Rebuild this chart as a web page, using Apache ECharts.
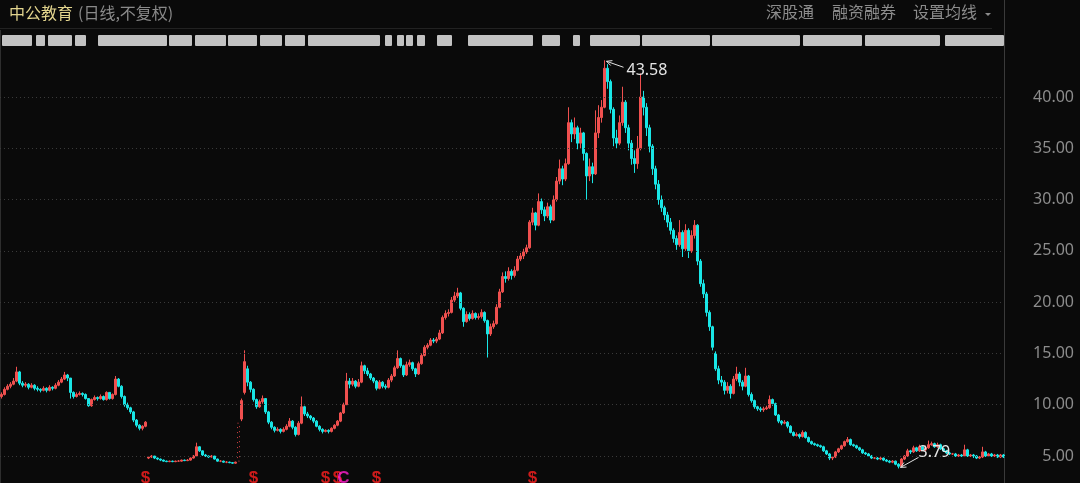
<!DOCTYPE html>
<html>
<head>
<meta charset="utf-8">
<script src="https://cdn.jsdelivr.net/npm/echarts@6/dist/echarts.min.js"></script>
<style>
html,body{margin:0;padding:0;background:#0a0a0a;}
#c{width:1080px;height:483px;}
</style>
</head>
<body>
<div id="c"></div>
<script>
// ---- data (daily K-line, 中公教育, unadjusted, resampled) ----
const opens = [
10.8,11.0,11.5,11.8,12.0,12.3,13.2,12.1,11.9,12.0,11.7,11.9,11.6,11.5,11.4,11.6,11.4,11.7,11.6,11.9,
12.2,12.5,12.9,12.6,11.2,10.8,11.0,11.1,11.0,10.6,9.9,10.5,10.7,10.6,10.8,10.5,11.2,10.6,11.0,12.5,
11.8,10.8,10.0,9.7,9.3,8.5,8.0,7.7,7.9,4.8,4.9,5.0,4.8,4.7,4.6,4.5,4.45,4.5,4.45,4.5,
4.5,4.6,4.55,4.6,4.8,5.0,5.9,5.5,5.1,5.0,4.9,5.0,4.7,4.5,4.5,4.4,4.4,4.35,4.3,4.5,
8.6,11.2,13.5,12.2,11.5,10.5,9.8,10.3,10.6,9.3,8.3,7.8,7.5,7.6,7.4,7.6,7.9,8.4,7.8,7.1,
8.2,9.8,9.1,8.9,8.7,8.4,7.9,7.6,7.4,7.5,7.4,7.7,8.0,8.4,9.2,10.0,12.3,12.0,12.3,11.8,
12.2,13.8,13.3,13.0,12.6,12.3,11.6,12.2,11.8,11.7,12.4,12.8,13.6,14.5,13.8,12.9,13.9,14.1,13.5,13.0,
14.0,14.8,15.6,15.8,16.3,16.2,16.4,17.0,18.5,18.9,19.0,20.2,20.6,20.9,19.4,18.1,18.8,18.4,18.9,18.5,
18.6,19.0,18.2,16.9,17.6,17.9,19.5,21.0,22.5,22.3,23.0,22.6,23.1,24.2,24.5,24.9,25.3,27.8,28.7,27.5,
29.8,29.0,28.4,29.3,28.0,30.0,31.8,33.0,32.0,33.5,37.5,36.4,37.0,35.5,36.5,34.5,32.3,33.2,32.5,36.5,
38.0,39.0,42.8,41.5,38.8,36.0,35.5,37.5,39.5,37.0,35.5,34.0,33.5,35.0,40.0,39.0,37.0,35.2,33.0,31.5,
30.0,29.2,28.5,27.8,27.0,26.2,25.6,26.8,25.2,27.0,25.0,26.5,27.5,24.0,21.8,20.8,19.0,17.6,15.0,13.5,
12.4,12.2,11.4,11.8,11.1,12.5,13.0,12.2,11.8,12.8,11.0,10.4,9.8,9.6,9.5,9.6,9.7,10.5,10.1,9.0,
8.4,8.2,8.3,7.9,7.3,7.0,7.1,6.9,7.3,6.8,6.4,6.2,6.1,6.0,5.9,5.5,5.2,4.8,4.9,5.4,
5.7,6.0,6.4,6.6,6.1,6.0,5.8,5.6,5.3,5.2,5.0,4.8,4.8,4.7,4.8,4.6,4.5,4.4,4.5,4.2,
4.0,4.7,5.0,5.5,5.4,5.8,5.5,5.9,5.6,5.8,6.1,6.2,5.9,6.1,5.7,5.5,5.3,5.2,5.2,5.0,
5.1,5.0,5.6,5.0,5.1,5.0,4.8,4.9,5.4,5.0,5.2,5.0,5.1,4.9,5.1
];
const closes = [
11.0,11.5,11.8,12.0,12.3,13.2,12.1,11.9,12.0,11.7,11.9,11.6,11.5,11.4,11.6,11.4,11.7,11.6,11.9,12.2,
12.5,12.9,12.6,11.2,10.8,11.0,11.1,11.0,10.6,9.9,10.5,10.7,10.6,10.8,10.5,11.2,10.6,11.0,12.5,11.8,
10.8,10.0,9.7,9.3,8.5,8.0,7.7,7.9,8.3,4.9,5.0,4.8,4.7,4.6,4.5,4.45,4.5,4.45,4.5,4.5,
4.6,4.55,4.6,4.8,5.0,5.9,5.5,5.1,5.0,4.9,5.0,4.7,4.5,4.5,4.4,4.4,4.35,4.3,4.4,8.2,
10.4,14.2,12.2,11.5,10.5,9.8,10.3,10.6,9.3,8.3,7.8,7.5,7.6,7.4,7.6,7.9,8.4,7.8,7.1,8.2,
9.8,9.1,8.9,8.7,8.4,7.9,7.6,7.4,7.5,7.4,7.7,8.0,8.4,9.2,10.0,12.3,12.0,12.3,11.8,12.2,
13.8,13.3,13.0,12.6,12.3,11.6,12.2,11.8,11.7,12.4,12.8,13.6,14.5,13.8,12.9,13.9,14.1,13.5,13.0,14.0,
14.8,15.6,15.8,16.3,16.2,16.4,17.0,18.5,18.9,19.0,20.2,20.6,20.9,19.4,18.1,18.8,18.4,18.9,18.5,18.6,
19.0,18.2,16.9,17.6,17.9,19.5,21.0,22.5,22.3,23.0,22.6,23.1,24.2,24.5,24.9,25.3,27.8,28.7,27.5,29.8,
29.0,28.4,29.3,28.0,30.0,31.8,33.0,32.0,33.5,37.5,36.4,37.0,35.5,36.5,34.5,32.3,33.2,32.5,36.5,38.0,
39.0,42.8,41.5,38.8,36.0,35.5,37.5,39.5,37.0,35.5,34.0,33.5,35.0,40.0,39.0,37.0,35.2,33.0,31.5,30.0,
29.2,28.5,27.8,27.0,26.2,25.6,26.8,25.2,27.0,25.0,26.5,27.5,24.0,21.8,20.8,19.0,17.6,15.6,13.5,12.4,
12.2,11.4,11.8,11.1,12.5,13.0,12.2,11.8,12.8,11.0,10.4,9.8,9.6,9.5,9.6,9.7,10.5,10.1,9.0,8.4,
8.2,8.3,7.9,7.3,7.0,7.1,6.9,7.3,6.8,6.4,6.2,6.1,6.0,5.9,5.5,5.2,4.8,4.9,5.4,5.7,
6.0,6.4,6.6,6.1,6.0,5.8,5.6,5.3,5.2,5.0,4.8,4.8,4.7,4.8,4.6,4.5,4.4,4.5,4.2,4.0,
4.7,5.0,5.5,5.4,5.8,5.5,5.9,5.6,5.8,6.1,6.2,5.9,6.1,5.7,5.5,5.3,5.2,5.2,5.0,5.1,
5.0,5.6,5.0,5.1,5.0,4.8,4.9,5.4,5.0,5.2,5.0,5.1,4.9,5.1,4.9
];
const lows = [
10.6,10.9,11.4,11.6,11.9,12.2,11.9,11.7,11.7,11.5,11.6,11.4,11.3,11.2,11.3,11.2,11.3,11.4,11.5,11.8,
12.1,12.4,12.3,10.6,10.6,10.7,10.9,10.8,10.5,9.8,9.8,10.4,10.4,10.5,10.4,10.4,10.5,10.5,10.9,11.7,
10.6,9.8,9.5,9.1,8.3,7.8,7.5,7.5,7.8,4.7,4.8,4.7,4.6,4.5,4.45,4.4,4.4,4.4,4.4,4.45,
4.45,4.5,4.5,4.55,4.75,5.0,5.4,5.0,4.9,4.8,4.85,4.65,4.45,4.4,4.35,4.3,4.3,4.25,4.25,4.5,
8.4,11.0,11.8,11.2,10.3,9.6,9.7,10.1,9.1,8.1,7.6,7.3,7.4,7.2,7.3,7.5,7.8,7.6,6.9,7.0,
8.1,8.9,8.7,8.5,8.2,7.8,7.4,7.2,7.3,7.2,7.3,7.6,7.9,8.3,9.1,10.0,11.6,11.8,11.6,11.7,
12.1,13.0,12.8,12.4,12.1,11.4,11.5,11.6,11.5,11.6,12.2,12.7,13.5,13.6,12.7,12.8,13.7,13.3,12.7,12.9,
13.9,14.7,15.4,15.7,16.0,16.0,16.3,16.9,18.3,18.6,18.9,20.0,20.4,19.2,17.6,18.0,18.2,18.3,18.3,18.3,
18.4,18.0,14.6,16.7,17.4,17.8,19.4,20.9,21.9,22.1,22.2,22.4,23.0,24.0,24.2,24.7,25.2,27.5,27.0,27.4,
28.6,27.9,28.2,27.7,27.9,29.8,31.5,31.4,31.8,33.4,35.6,35.9,34.9,35.0,33.8,30.0,31.8,31.6,32.4,36.0,
37.5,38.9,40.8,38.4,35.2,35.0,35.3,37.2,36.5,34.8,33.4,32.6,33.0,34.8,38.2,36.2,34.6,32.4,31.0,29.5,
28.8,28.0,27.3,26.6,25.8,25.1,25.4,24.4,25.0,24.3,24.8,26.2,23.6,21.5,20.4,18.6,17.2,15.3,13.3,12.0,
11.8,11.0,11.1,10.6,11.0,12.3,11.8,11.4,11.7,10.8,10.2,9.6,9.4,9.3,9.3,9.5,9.6,9.9,8.9,8.2,
8.0,8.1,7.7,7.2,6.9,6.9,6.7,6.8,6.7,6.3,6.1,6.0,5.9,5.8,5.4,5.1,4.6,4.6,4.8,5.3,
5.6,5.9,6.3,6.0,5.9,5.7,5.5,5.2,5.1,4.9,4.7,4.7,4.6,4.6,4.5,4.4,4.3,4.3,4.1,3.79,
4.0,4.6,4.9,5.2,5.3,5.4,5.4,5.5,5.5,5.7,6.0,5.8,5.8,5.6,5.4,5.2,5.1,5.1,4.9,4.9,
4.9,5.0,4.9,4.9,4.8,4.7,4.7,4.8,4.9,4.9,4.9,4.9,4.8,4.8,4.8
];
const highs = [
11.2,11.7,12.0,12.2,12.6,13.7,13.3,12.3,12.2,12.1,12.1,12.0,11.8,11.6,11.8,11.7,11.9,11.8,12.1,12.4,
12.7,13.2,13.0,12.6,11.3,11.2,11.3,11.2,11.1,10.6,10.6,10.9,10.8,11.0,10.9,11.3,11.2,11.1,12.8,12.6,
11.9,10.9,10.2,9.8,9.4,8.6,8.1,8.0,8.4,5.0,5.1,5.0,4.85,4.75,4.65,4.55,4.55,4.55,4.55,4.6,
4.65,4.65,4.7,4.85,5.1,6.3,5.95,5.55,5.2,5.05,5.1,5.0,4.75,4.6,4.55,4.5,4.45,4.4,4.45,8.2,
10.6,15.3,13.8,12.3,11.6,10.6,10.5,10.9,10.6,9.4,8.4,7.9,7.8,7.7,7.8,8.1,8.7,8.5,7.9,8.4,
10.8,9.9,9.3,9.0,8.8,8.5,8.0,7.7,7.6,7.6,7.8,8.1,8.5,9.3,10.2,13.1,12.6,12.6,12.4,12.5,
14.2,13.9,13.6,13.1,12.7,12.4,12.4,12.3,12.0,12.6,13.0,13.8,15.3,14.6,13.9,14.2,14.4,14.2,13.6,14.2,
15.0,15.8,16.0,16.5,16.5,16.6,17.3,18.7,19.2,19.3,20.5,21.0,21.4,21.0,19.5,19.1,19.0,19.2,19.0,18.9,
19.3,19.1,18.3,17.9,18.2,19.8,21.3,22.9,23.0,23.4,23.2,23.5,24.5,24.8,25.2,25.6,28.0,29.2,28.8,30.6,
30.1,29.3,29.7,29.5,30.4,32.2,33.9,33.3,34.0,39.0,37.8,38.0,37.2,37.0,36.6,34.6,34.0,33.6,38.7,39.2,
39.7,43.58,43.2,41.7,39.0,36.8,38.2,41.0,39.7,37.3,35.8,34.8,36.2,42.3,40.6,39.4,37.3,35.4,33.3,31.9,
30.4,29.4,28.8,28.2,27.2,26.5,28.0,27.0,27.6,27.2,27.0,28.0,27.6,24.2,22.2,21.0,19.2,17.7,15.2,13.8,
12.8,12.4,12.2,12.0,12.8,13.7,13.2,12.4,13.6,12.9,11.2,10.5,9.9,9.8,9.8,9.9,10.9,10.6,10.2,9.1,
8.5,8.5,8.4,8.0,7.4,7.3,7.2,7.5,7.4,6.9,6.5,6.3,6.2,6.1,6.0,5.6,5.3,5.0,5.5,5.8,
6.1,6.5,6.85,6.7,6.2,6.1,5.9,5.7,5.4,5.3,5.1,4.9,4.9,4.9,4.85,4.7,4.6,4.6,4.55,4.3,
4.8,5.1,5.7,5.6,6.0,5.9,6.1,6.0,6.0,6.5,6.4,6.3,6.3,6.2,5.8,5.6,5.4,5.3,5.3,5.2,
5.2,6.1,5.7,5.2,5.2,5.1,5.0,5.9,5.5,5.3,5.3,5.2,5.2,5.2,5.2
];
const categories = closes.map((_, i) => 'D' + (i + 1));
const limitUpRun = [79];            // run of one-price limit-up sessions, drawn dotted
const yTicks = [5, 10, 15, 20, 25, 30, 35, 40];
const markerIdx = [48, 84, 108, 112, 114, 125, 177];
const markerText = ['$', '$', '$', '$', 'C', '$', '$'];
const markerColor = ['#ff1f1f', '#ff1f1f', '#ff1f1f', '#ff1f1f', '#ff1fd0', '#ff1f1f', '#ff1f1f'];
const titleMain = '中公教育';
const titleSub = '(日线,不复权)';
const rightMenu = ['深股通', '融资融券', '设置均线'];

// ---- chart ----
const chart = echarts.init(document.getElementById('c'), null, {renderer: 'canvas'});
const UP = '#f0504f', DOWN = '#19e6e6';
const kdata = closes.map((c, i) => {
  const item = {value: [opens[i], c, lows[i], highs[i]]};
  if (limitUpRun.includes(i)) {
    item.itemStyle = {color: 'rgba(0,0,0,0)', borderColor: '#d24040', borderType: [1, 4], borderWidth: 1};
  }
  return item;
});

const option = {
  backgroundColor: '#0a0a0a',
  animation: false,
  grid: {left: 0, right: 75, top: 50, bottom: 0},
  xAxis: {
    type: 'category', data: categories, boundaryGap: true,
    axisLine: {show: false}, axisTick: {show: false}, axisLabel: {show: false}, splitLine: {show: false}
  },
  yAxis: {
    type: 'value', position: 'right', min: 2.3677, max: 44.582,
    axisLine: {show: false}, axisTick: {show: false}, splitLine: {show: false}, axisLabel: {show: false}
  },
  series: [
    {
      type: 'candlestick', data: kdata, barWidth: 2,
      itemStyle: {color: UP, color0: DOWN, borderColor: UP, borderColor0: DOWN, borderWidth: 1},
      markLine: {
        silent: true, symbol: ['none', 'none'], label: {show: false},
        lineStyle: {color: '#3a3a3a', type: [1, 3], width: 1},
        data: yTicks.map(v => ({yAxis: v}))
      }
    },
    {
      type: 'scatter', symbol: 'circle', symbolSize: 1, clip: false,
      itemStyle: {color: 'rgba(0,0,0,0)'},
      data: markerIdx.map((x, i) => ({value: [x, 2.85], label: {formatter: markerText[i], color: markerColor[i]}})),
      label: {show: true, position: 'inside', fontSize: 17, fontWeight: 'bold', fontFamily: 'Liberation Sans'},
      z: 5
    }
  ]
};
chart.setOption(option);

// ---- overlays positioned through the chart's scales ----
const strip = [[2,32],[36,45],[48,72],[75,86],[98,167],[169,192],[195,226],[228,257],[260,282],[285,305],[308,380],
  [385,392],[397,404],[406,413],[417,425],[437,452],[468,533],[542,560],[573,580],[590,640],[642,710],[712,800],
  [803,862],[865,940],[945,1004]];

function arrow(x1, y1, x2, y2) {
  const a = Math.atan2(y1 - y2, x1 - x2), L = 6, w = 0.45;
  return [
    {type: 'line', shape: {x1, y1, x2, y2}, style: {stroke: '#e0e0e0', lineWidth: 1}, z: 20},
    {type: 'polyline', shape: {points: [
      [x2 + L * Math.cos(a + w), y2 + L * Math.sin(a + w)], [x2, y2],
      [x2 + L * Math.cos(a - w), y2 + L * Math.sin(a - w)]]},
      style: {stroke: '#e0e0e0', lineWidth: 1, fill: null}, z: 20}
  ];
}

let hi = 0, lo = 0;
highs.forEach((v, i) => { if (v > highs[hi]) hi = i; });
lows.forEach((v, i) => { if (v < lows[lo]) lo = i; });
const P = chart.convertToPixel({seriesIndex: 0}, [hi, highs[hi]]);
const Q = chart.convertToPixel({seriesIndex: 0}, [lo, lows[lo]]);

const g = [];
const cjk = '16px "Noto Sans CJK SC"';
// header
g.push({type: 'text', left: 9, top: 5, style: {text: titleMain, fill: '#e3d58e', font: cjk}});
g.push({type: 'text', left: 78, top: 5, style: {text: titleSub, fill: '#8a8a8a', font: cjk}});
g.push({type: 'text', left: 766, top: 4, style: {text: rightMenu[0], fill: '#8c8c8c', font: cjk}});
g.push({type: 'text', left: 832, top: 4, style: {text: rightMenu[1], fill: '#8c8c8c', font: cjk}});
g.push({type: 'text', left: 913, top: 4, style: {text: rightMenu[2], fill: '#8c8c8c', font: cjk}});
g.push({type: 'polygon', shape: {points: [[985, 13], [991, 13], [988, 16]]}, style: {fill: '#8c8c8c'}});
g.push({type: 'line', shape: {x1: 0, y1: 28.5, x2: 992, y2: 28.5}, style: {stroke: '#222222', lineWidth: 1}});
// axis border lines
g.push({type: 'line', shape: {x1: 1004.5, y1: 0, x2: 1004.5, y2: 483}, style: {stroke: '#3a3a3a', lineWidth: 1}});
g.push({type: 'line', shape: {x1: 0.5, y1: 30, x2: 0.5, y2: 483}, style: {stroke: '#2e2e2e', lineWidth: 1}});
// y-axis tick labels, placed through the value axis
yTicks.forEach(v => {
  const y = chart.convertToPixel({yAxisIndex: 0}, v);
  g.push({type: 'text', x: 1074, y: y, style: {text: v.toFixed(2), fill: '#8c8c8c', font: '16px "Noto Sans"',
    align: 'right', verticalAlign: 'middle'}});
});
// censored legend strip
strip.forEach(s => g.push({type: 'rect', shape: {x: s[0], y: 35, width: s[1] - s[0], height: 11, r: 1},
  style: {fill: '#c2c2c2'}, z: 10}));
// extreme-value annotations
g.push(...arrow(P[0] + 19, P[1] + 7, P[0] + 2, P[1] + 1));
g.push({type: 'text', x: P[0] + 22, y: P[1] + 10, style: {text: highs[hi].toFixed(2), fill: '#e6e6e6',
  font: '16px "Noto Sans"', verticalAlign: 'middle'}, z: 20});
g.push(...arrow(Q[0] + 20, Q[1] - 11, Q[0] + 2, Q[1] - 1));
g.push({type: 'text', x: Q[0] + 20, y: Q[1] - 16, style: {text: lows[lo].toFixed(2), fill: '#e6e6e6',
  font: '16px "Noto Sans"', verticalAlign: 'middle'}, z: 20});
chart.setOption({graphic: g});
</script>
</body>
</html>
